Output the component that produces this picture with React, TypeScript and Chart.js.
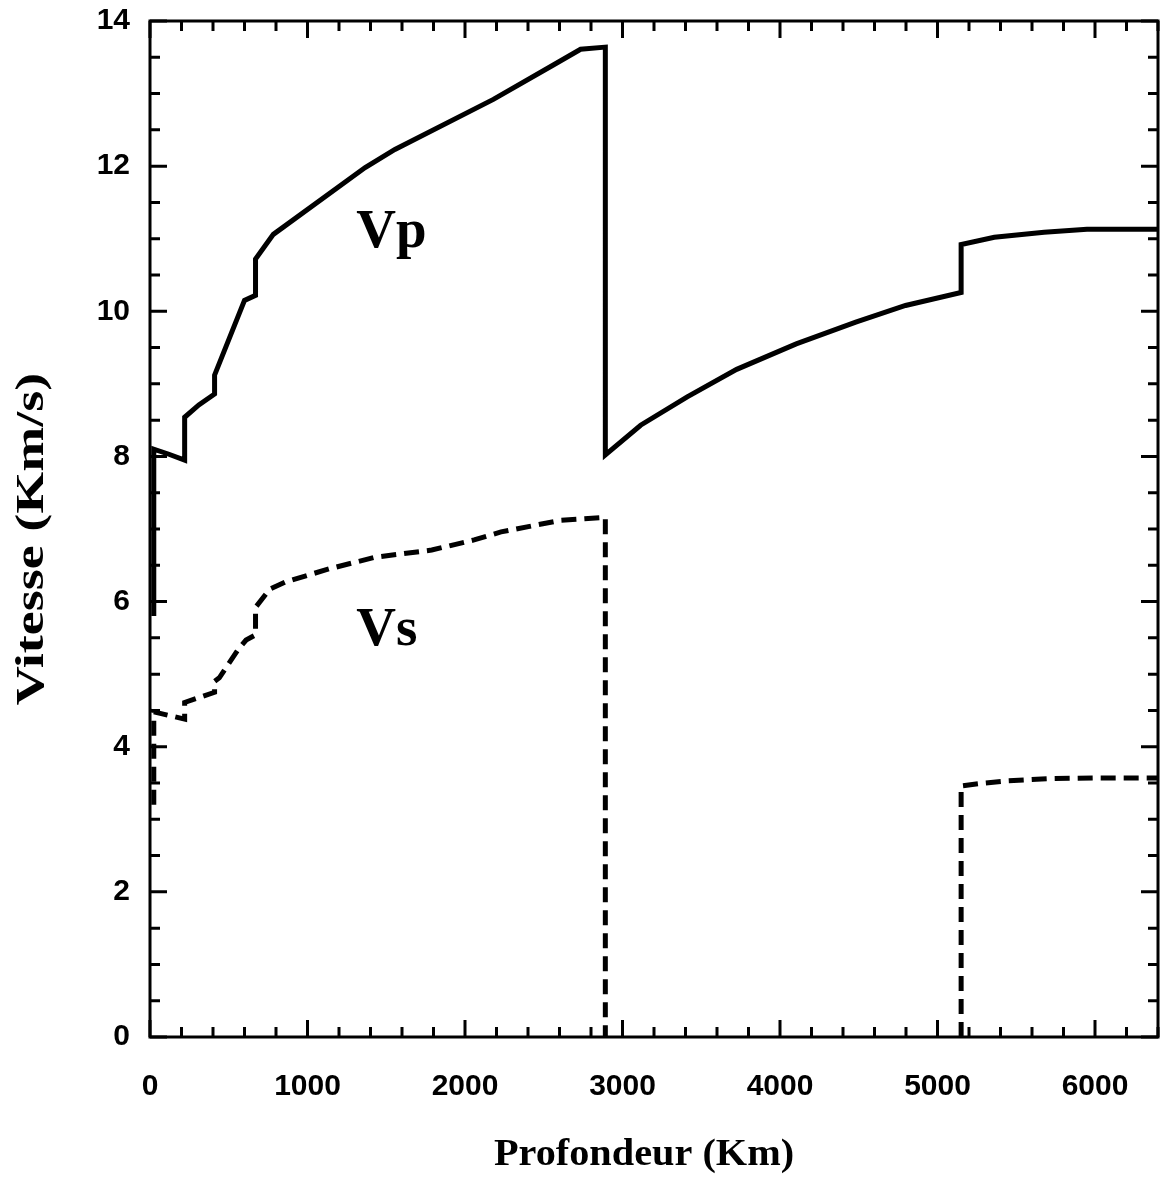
import React, { useEffect, useRef } from "react";
import { Chart, registerables } from "chart.js";

Chart.register(...registerables);

// Profondeur (km) / vitesse (km/s)
const vpDepth = [24, 24, 120, 220, 220, 310, 410, 410, 600, 670, 670, 783, 1366, 1555, 2180, 2558, 2734, 2891, 2891, 3115, 3411, 3725, 4103, 4481, 4797, 5150, 5150, 5361, 5677, 5949, 6400];
const vpSpeed = [5.8, 8.1, 8.03, 7.95, 8.54, 8.71, 8.86, 9.12, 10.15, 10.22, 10.72, 11.06, 11.98, 12.23, 12.92, 13.39, 13.61, 13.64, 8.02, 8.43, 8.82, 9.2, 9.55, 9.85, 10.08, 10.26, 10.92, 11.02, 11.09, 11.13, 11.13];

const vsMantleDepth = [24, 24, 220, 220, 410, 410, 440, 560, 610, 670, 670, 760, 860, 1136, 1427, 1789, 2058, 2229, 2608, 2891, 2891];
const vsMantleSpeed = [3.2, 4.48, 4.38, 4.61, 4.75, 4.9, 4.95, 5.34, 5.47, 5.54, 5.92, 6.17, 6.27, 6.45, 6.61, 6.71, 6.85, 6.96, 7.12, 7.16, 0];

const vsCoreDepth = [5150, 5150, 5300, 5450, 5700, 6000, 6400];
const vsCoreSpeed = [0, 3.46, 3.5, 3.53, 3.56, 3.57, 3.57];

const xTickValues = [0, 1000, 2000, 3000, 4000, 5000, 6000];
const yTickValues = [0, 2, 4, 6, 8, 10, 12, 14];

const curveLabels = ["Vp", "Vs"];
const curveLabelDepth = [1310, 1310];
const curveLabelSpeed = [10.89, 5.4];

const xAxisTitle = "Profondeur (Km)";
const yAxisTitle = "Vitesse (Km/s)";

const X_MAX = 6400;
const Y_MAX = 14;

const toPoints = (xs: number[], ys: number[]) => xs.map((x, i) => ({ x, y: ys[i] }));

const SERIF = '"Liberation Serif", "Times New Roman", serif';

const drawStretched = (ctx: any, text: string, cx: number, cy: number, angle: number, k: number) => {
  ctx.save();
  ctx.translate(cx, cy);
  ctx.rotate(angle);
  ctx.scale(k, 1);
  ctx.textAlign = "center";
  ctx.textBaseline = "middle";
  ctx.fillText(text, 0, 0);
  ctx.restore();
};

const framePlugin = {
  id: "frame",
  afterDraw(chart: any) {
    const { ctx, chartArea: a, scales } = chart;
    const xs = scales.x;
    const ys = scales.y;
    ctx.save();
    ctx.strokeStyle = "#000";
    ctx.lineWidth = 3;
    ctx.lineCap = "butt";
    const major = 17;
    const minor = 10;
    ctx.beginPath();
    for (let i = 0; i * 200 <= X_MAX; i++) {
      const v = i * 200;
      const px = xs.getPixelForValue(v);
      const len = v % 1000 === 0 ? major : minor;
      ctx.moveTo(px, a.bottom);
      ctx.lineTo(px, a.bottom - len);
      ctx.moveTo(px, a.top);
      ctx.lineTo(px, a.top + len);
    }
    for (let i = 0; i * 0.5 <= Y_MAX; i++) {
      const v = i * 0.5;
      const py = ys.getPixelForValue(v);
      const len = i % 4 === 0 ? major : minor;
      ctx.moveTo(a.left, py);
      ctx.lineTo(a.left + len, py);
      ctx.moveTo(a.right, py);
      ctx.lineTo(a.right - len, py);
    }
    ctx.stroke();
    ctx.strokeRect(a.left, a.top, a.right - a.left, a.bottom - a.top);

    ctx.fillStyle = "#000";
    ctx.font = `bold 55px ${SERIF}`;
    ctx.textAlign = "left";
    ctx.textBaseline = "alphabetic";
    curveLabels.forEach((t, i) => {
      ctx.fillText(t, xs.getPixelForValue(curveLabelDepth[i]), ys.getPixelForValue(curveLabelSpeed[i]));
    });

    // axis titles
    ctx.font = `bold 38px ${SERIF}`;
    drawStretched(ctx, xAxisTitle, (a.left + a.right) / 2 - 10, a.bottom + 118, 0, 1.06);
    ctx.font = `bold 40px ${SERIF}`;
    drawStretched(ctx, yAxisTitle, 33, (a.top + a.bottom) / 2 + 10, -Math.PI / 2, 1.35);
    ctx.restore();
  },
};

export default function App() {
  const ref = useRef<HTMLCanvasElement>(null);

  useEffect(() => {
    const lineBase = {
      borderColor: "#000",
      borderWidth: 5,
      pointRadius: 0,
      pointHoverRadius: 0,
      tension: 0,
      fill: false,
      borderJoinStyle: "miter" as const,
      borderCapStyle: "butt" as const,
    };
    const tickFont = { family: '"Liberation Sans", Arial, sans-serif', weight: "bold" as const, size: 30 };
    const chart = new Chart(ref.current!, {
      type: "line",
      data: {
        datasets: [
          { ...lineBase, label: "Vp", data: toPoints(vpDepth, vpSpeed) },
          { ...lineBase, label: "Vs", data: toPoints(vsMantleDepth, vsMantleSpeed), borderDash: [15, 8] },
          { ...lineBase, label: "Vs graine", data: toPoints(vsCoreDepth, vsCoreSpeed), borderDash: [15, 8] },
        ],
      },
      options: {
        animation: false,
        responsive: false,
        devicePixelRatio: 1,
        layout: { padding: { top: 21, right: 10, left: 0, bottom: 0 } },
        plugins: { legend: { display: false }, tooltip: { enabled: false } },
        scales: {
          x: {
            type: "linear",
            min: 0,
            max: X_MAX,
            grid: { display: false, drawTicks: false },
            border: { display: false },
            afterBuildTicks: (s: any) => {
              s.ticks = xTickValues.map((v) => ({ value: v }));
            },
            afterFit: (s: any) => {
              s.height = 141;
              s.paddingLeft = 0;
              s.paddingRight = 0;
            },
            ticks: {
              padding: 32,
              color: "#000",
              maxRotation: 0,
              autoSkip: false,
              callback: (v: any) => String(v),
              font: tickFont,
            },
            title: { display: false, text: xAxisTitle },
          },
          y: {
            type: "linear",
            min: 0,
            max: Y_MAX,
            grid: { display: false, drawTicks: false },
            border: { display: false },
            afterBuildTicks: (s: any) => {
              s.ticks = yTickValues.map((v) => ({ value: v }));
            },
            afterFit: (s: any) => {
              s.width = 150;
              s.paddingTop = 0;
              s.paddingBottom = 0;
            },
            ticks: {
              padding: 20,
              color: "#000",
              autoSkip: false,
              callback: (v: any) => String(v),
              font: tickFont,
            },
            title: { display: false, text: yAxisTitle },
          },
        },
      },
      plugins: [framePlugin],
    });
    return () => chart.destroy();
  }, []);

  return (
    <div style={{ position: "fixed", left: 0, top: 0, width: 1168, height: 1178, background: "#fff" }}>
      <canvas ref={ref} width={1168} height={1178} style={{ display: "block" }} />
    </div>
  );
}
